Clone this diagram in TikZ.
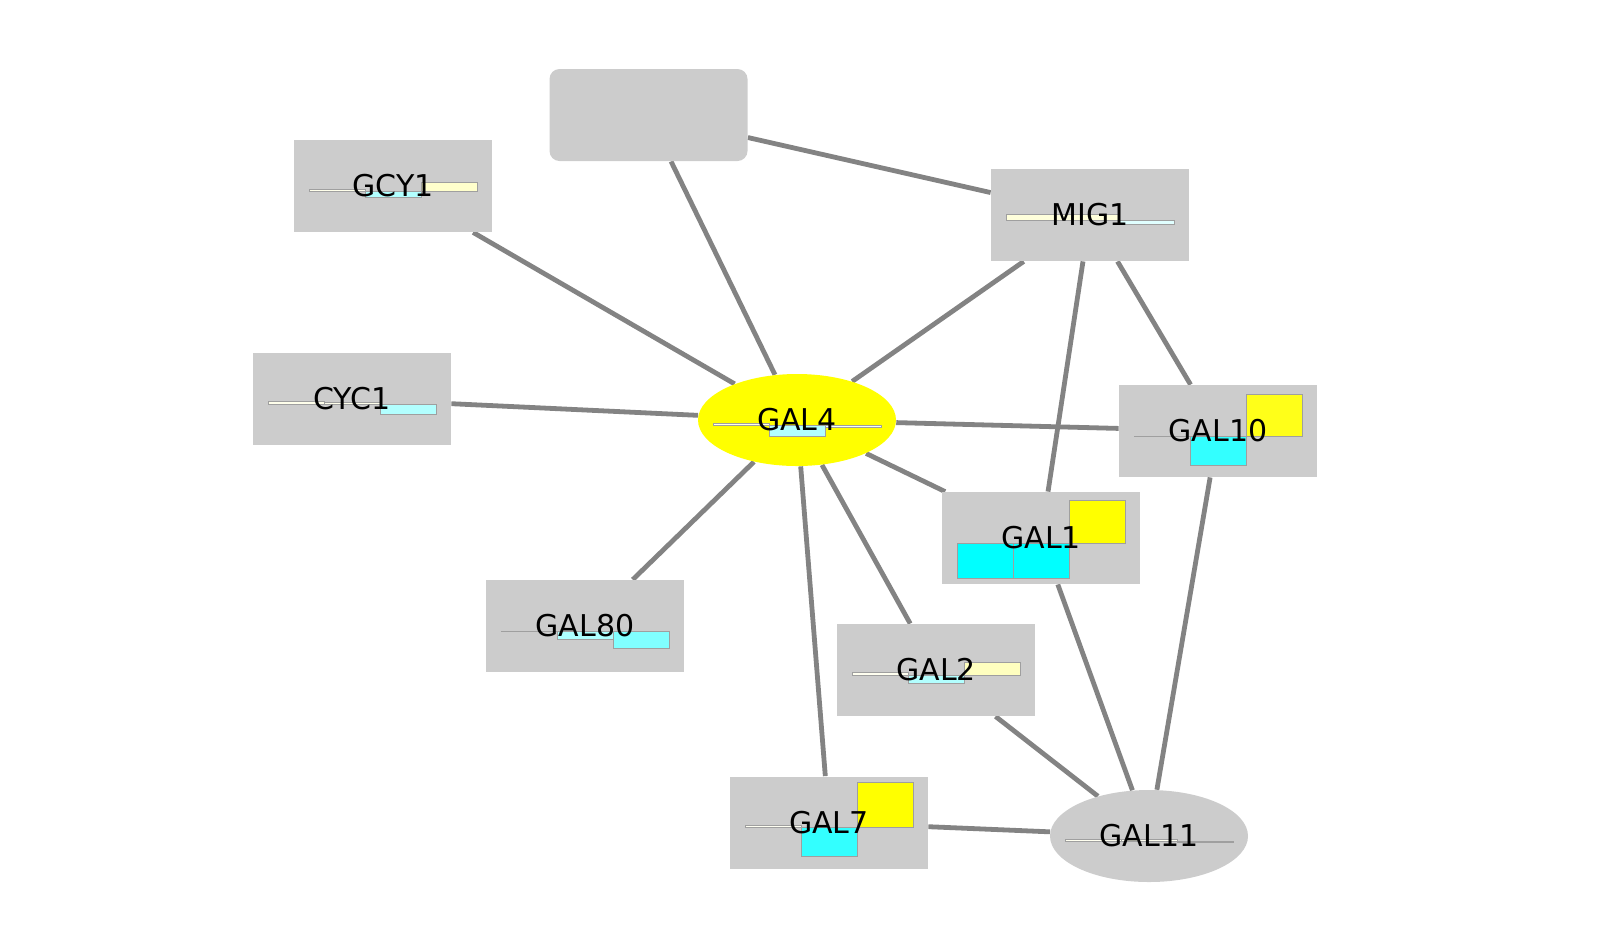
\documentclass[tikz,border=0pt]{standalone}
\usepackage{fontspec}
\setmainfont{DejaVu Sans}
\usetikzlibrary{shapes.geometric,backgrounds}
\definecolor{nodegray}{HTML}{CCCCCC}
\definecolor{edgegray}{HTML}{838383}
\definecolor{up}{RGB}{255,255,0}
\definecolor{down}{RGB}{0,255,255}
\tikzstyle{gene}=[rectangle,fill=nodegray,inner sep=0pt,minimum width=99pt,minimum height=46pt,font=\fontsize{15}{18}\selectfont]
\tikzstyle{hub}=[gene,ellipse,fill=up]
\tikzstyle{bar}=[draw=gray!75,line width=0.5pt]
\tikzstyle{link}=[draw=edgegray,line width=2.4pt]
% three columns of expression values, baseline a little under the centre
\tikzset{bars/.style={path picture={
    \foreach \h/\c [count=\i] in {#1}
        \filldraw[bar,fill=\c] ([shift={(-140+56*\i,5)}]path picture bounding box.center) rectangle ++(56,{-(\h)});
}}}
\begin{document}
\begin{tikzpicture}[x=0.5pt,y=-0.5pt]
\useasboundingbox (0,0) rectangle (1599,950);
\path (797,420) node[hub,bars={2/up!8,-11/down!30,-2/down!6}] (GAL4) {GAL4}
    (GAL4) ++(-148.5,-305) node[gene,rounded corners=5pt] (TOP) {}
    (GAL4) ++(-404,-234) node[gene,bars={2/up!8,-6/down!30,9/up!20}] (GCY1) {GCY1}
    (GAL4) ++(-445,-21) node[gene,bars={3/up!8,2/up!8,-10/down!30}] (CYC1) {CYC1}
    (GAL4) ++(293,-205) node[gene,bars={6/up!14,6/up!14,-4/down!12}] (MIG1) {MIG1}
    (GAL4) ++(421,11) node[gene,bars={0/white,-29/down!80,42/up!90}] (GAL10) {GAL10}
    (GAL4) ++(244,118) node[gene,bars={-35/down,-35/down,43/up}] (GAL1) {GAL1}
    (GAL4) ++(-212,206) node[gene,bars={0/white,-8/down!32,-17/down!50}] (GAL80) {GAL80}
    (GAL4) ++(139,250) node[gene,bars={2.5/up!6,-8/down!30,13/up!25}] (GAL2) {GAL2}
    (GAL4) ++(32,402.5) node[gene,bars={2/up!5,-29/down!80,45/up}] (GAL7) {GAL7}
    (GAL4) ++(352,416) node[hub,fill=nodegray,bars={1.5/up!6,1.5/up!6,-1/down!6}] (GAL11) {GAL11}
    ;
\begin{scope}[on background layer]
\path (GAL4) edge[link] (TOP) edge[link] (GCY1) edge[link] (CYC1) edge[link] (MIG1)
        edge[link] (GAL10) edge[link] (GAL1) edge[link] (GAL80) edge[link] (GAL2) edge[link] (GAL7)
    (TOP) edge[link] (MIG1)
    (MIG1) edge[link] (GAL10) edge[link] (GAL1)
    (GAL11) edge[link] (GAL1) edge[link] (GAL10) edge[link] (GAL2) edge[link] (GAL7);
\end{scope}
\end{tikzpicture}
\end{document}
